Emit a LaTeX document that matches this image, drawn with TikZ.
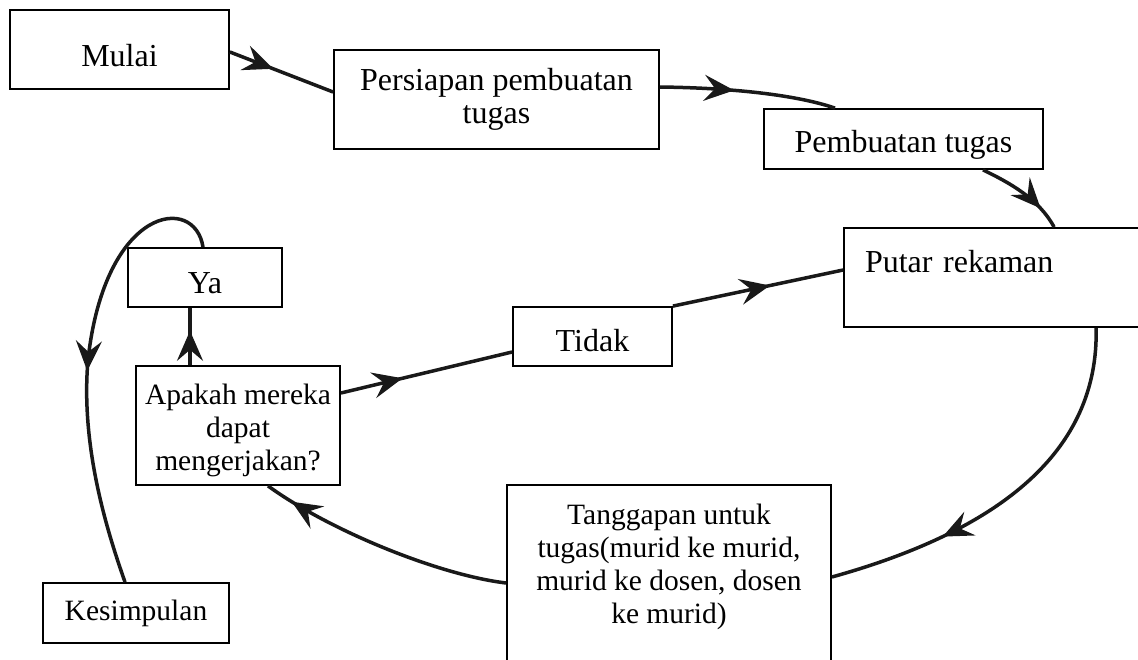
\documentclass[tikz,border=0pt]{standalone}
\usepackage{fontspec}
\setmainfont{Liberation Serif}
\usetikzlibrary{arrows.meta,decorations.markings,calc}
\begin{document}
\begin{tikzpicture}[x=1pt,y=-1pt,
  box/.style={draw, line width=1.8pt, inner sep=0pt, align=center, font=\fontsize{32}{33}\selectfont},
  smallbox/.style={box, font=\fontsize{29.5}{33}\selectfont},
  conn/.style={line width=3.5pt, draw=black!90},
  arrowat/.style={postaction={decorate, decoration={markings, mark=at position #1 with {\arrow[black!90]{Stealth[length=30pt,width=26pt,inset=11pt]}}}}}
]
\useasboundingbox (0,0) rectangle (1138,659);
\node[box, minimum width=219pt, minimum height=79pt, text height=33pt, text depth=0pt] (mulai) at (119.5,49.5) {Mulai};
\node[box, minimum width=325pt, minimum height=99pt] (persiapan) at (496.5,99.5) {Persiapan pembuatan\\tugas};
\node[box, minimum width=279pt, minimum height=60pt, text height=27pt, text depth=0pt] (pembuatan) at (903.5,139) {Pembuatan tugas};
\node[box, inner xsep=21pt, text width=278pt, align=left, minimum height=99pt] (putar) at (1004,277.5) {Putar rekaman\\\mbox{}};
\node[box, minimum width=154pt, minimum height=59pt, text height=32pt, text depth=0pt] (ya) at (205,277.5) {Ya};
\node[box, minimum width=159pt, minimum height=59pt, text height=30pt, text depth=0pt] (tidak) at (592.5,336.5) {Tidak};
\node[smallbox, minimum width=204pt, minimum height=119pt, text height=24pt, text depth=0pt] (apakah) at (238,425.5) {\begin{tabular}{@{}c@{}}Apakah mereka\\dapat\\mengerjakan?\end{tabular}};
\node[smallbox, minimum width=324pt, minimum height=190pt] (tanggapan) at (669,580) {Tanggapan untuk\\tugas(murid ke murid,\\murid ke dosen, dosen\\ke murid)\\\mbox{}};
\node[smallbox, minimum width=186pt, minimum height=60pt] (kesimpulan) at (136,613) {Kesimpulan};
\coordinate (bend) at (88,360);

\draw[conn, arrowat=0.42] ([yshift=-2.5pt]mulai.east) -- ([yshift=7.5pt]persiapan.west);
\draw[conn, arrowat=0.42] ([yshift=12.5pt]persiapan.east) .. controls +(80,1) and +(-35,-12) .. ([xshift=-68.5pt]pembuatan.north);
\draw[conn, arrowat=0.75] ([xshift=79.5pt]pembuatan.south) .. controls +(27,13) and +(-15,-28) .. ([xshift=211pt]putar.north west);
\draw[conn, arrowat=0.57] (tidak.north east) -- ([yshift=7.5pt]putar.west);
\draw[conn, arrowat=0.7] ([xshift=253pt]putar.south west) .. controls +(3,123) and +(169,-47) .. ([yshift=3pt]tanggapan.east);
\draw[conn, arrowat=0.89] ([yshift=-3pt]tanggapan.west) .. controls +(-67,-8) and +(62,45) .. ([xshift=30pt]apakah.south);
\draw[conn, arrowat=0.6] ([xshift=-48pt]apakah.north) -- ([xshift=-15pt]ya.south);
\draw[conn, arrowat=0.36] ([yshift=32.5pt]apakah.east) -- ([yshift=-15.5pt]tidak.west);
\draw[conn, arrowat=0.52] ([xshift=-2pt]ya.north) .. controls +(-8,-53) and +(17,-155) .. (bend) .. controls +(-8,90) and +(-15,-43) .. ([xshift=-11pt]kesimpulan.north);
\end{tikzpicture}
\end{document}
